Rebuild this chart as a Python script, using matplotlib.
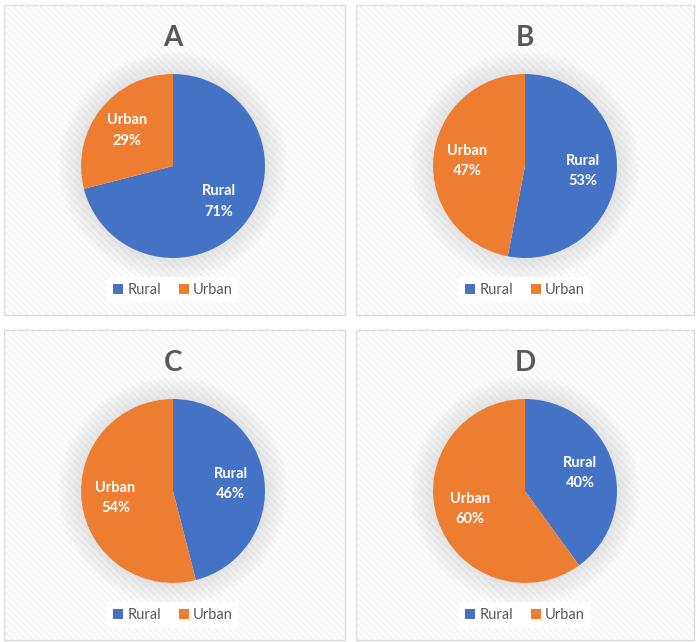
from matplotlib import pyplot as plt
from matplotlib.patches import Rectangle, Circle
import numpy as np

plt.rcParams['font.family'] = ['Lato', 'DejaVu Sans']

# data
panels = ['A', 'B', 'C', 'D']
categories = ['Rural', 'Urban']
rural = [71, 53, 46, 40]
urban = [29, 47, 54, 60]
colors = ['#4472C4', '#ED7D31']

W, H = 697, 642
fig = plt.figure(figsize=(W / 100, H / 100), dpi=100)
fig.patch.set_facecolor('white')

# panel boxes (pixel coords: left, top, right, bottom)
boxes = [(4, 5, 345, 315), (356, 5, 694, 315), (4, 330, 345, 640), (356, 330, 694, 640)]
centers = [(173, 166), (525, 166), (173, 491), (525, 491)]
r_px = 92


def fx(x):
    return x / W


def fy(y):
    return 1 - y / H


for i, name in enumerate(panels):
    l, t, r, b = boxes[i]
    rect = Rectangle((fx(l), fy(b)), fx(r - l), (b - t) / H, transform=fig.transFigure,
                     facecolor='white', edgecolor='#D9D9D9', lw=1, zorder=-10)
    fig.patches.append(rect)
    hatch = Rectangle((fx(l), fy(b)), fx(r - l), (b - t) / H, transform=fig.transFigure,
                      facecolor='none', edgecolor='#F1F1F1', lw=0, hatch='\\\\\\\\\\', zorder=-9)
    fig.patches.append(hatch)

    cx, cy = centers[i]
    ax = fig.add_axes([fx(cx - r_px * 1.45), fy(cy + r_px * 1.45), fx(2.9 * r_px), 2.9 * r_px / H])
    ax.set_axis_off()
    ax.set_zorder(1)
    # soft glow behind the pie
    for k in range(22):
        ax.add_patch(Circle((0, 0), 1.0 + 0.012 * k, color='#A0A0A0', alpha=0.012, lw=0, zorder=0))
    ax.add_patch(Circle((0, 0), 1.0, color='white', lw=0, zorder=0.5))

    vals = [rural[i], urban[i]]
    wedges, _ = ax.pie(vals, colors=colors, startangle=90, counterclock=False,
                       wedgeprops=dict(linewidth=0))
    for w in wedges:
        w.set_zorder(1)
    for w, cat, v in zip(wedges, categories, vals):
        ang = np.deg2rad((w.theta1 + w.theta2) / 2)
        ax.text(0.63 * np.cos(ang), 0.63 * np.sin(ang), f'{cat}\n{v}%', ha='center', va='center',
                color='white', fontsize=10.5, fontweight='bold', linespacing=1.55, zorder=3)
    ax.set_xlim(-1.45, 1.45)
    ax.set_ylim(-1.45, 1.45)
    ax.set_aspect('equal')

    fig.text(fx(cx), fy(t + 33), name, ha='center', va='center', fontsize=20,
             fontweight='bold', color='#595959')

    leg = fig.legend(wedges, categories, loc='center', bbox_to_anchor=(fx(cx), fy(t + 285)),
                     ncol=2, frameon=True, fontsize=10.5, handlelength=0.7, handleheight=0.7,
                     handletextpad=0.3, columnspacing=1.2, borderpad=0.4)
    leg.get_frame().set_facecolor('white')
    leg.get_frame().set_edgecolor('none')
    leg.get_frame().set_alpha(1)
    for txt in leg.get_texts():
        txt.set_color('#595959')

fig.savefig('out.png', dpi=100)
